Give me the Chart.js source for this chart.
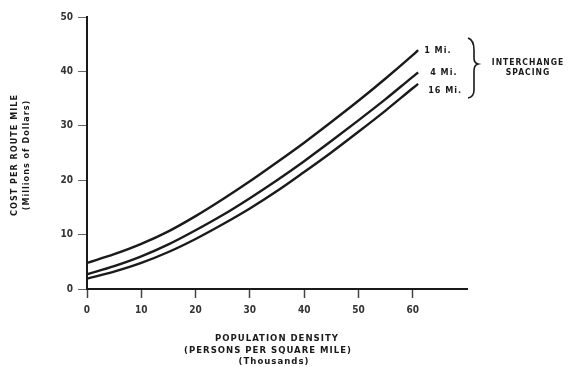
<!DOCTYPE html>
<html>
<head>
<meta charset="utf-8">
<script src="https://cdn.jsdelivr.net/npm/chart.js@4"></script>
<style>
  html, body { margin: 0; padding: 0; background: #fff; }
  canvas { display: block; }
</style>
</head>
<body>
<canvas id="cost" width="569" height="367"></canvas>
<script>
// ── DATA ─────────────────────────────────────────────────────────────
// population density, thousands of persons per square mile
const densityK = [0, 5, 10, 15, 20, 25, 30, 35, 40, 45, 50, 55, 60, 61]
// cost per route mile, millions of dollars, by interchange spacing
const cost1Mi  = [4.8, 6.4, 8.3, 10.6, 13.4, 16.5, 19.8, 23.3, 26.9, 30.7, 34.6, 38.7, 43.0, 43.9]
const cost4Mi  = [2.7, 4.2, 6.0, 8.2, 10.8, 13.6, 16.7, 20.0, 23.5, 27.2, 31.0, 34.9, 39.0, 39.8]
const cost16Mi = [1.9, 3.2, 4.8, 6.8, 9.2, 11.9, 14.8, 18.0, 21.5, 25.1, 28.9, 32.8, 36.9, 37.7]
const spacingLabels = ["1 Mi.", "4 Mi.", "16 Mi."]
const xTickMax = 60

const FONT = "'Liberation Sans Narrow', 'DejaVu Sans Condensed', 'Arial Narrow', sans-serif"
const INK = "#1a1a1a"

const toPts = ys => ys.map((y, i) => ({ x: densityK[i], y }))

// offsets of the end labels from each curve's last point
const labelOffsets = [[6, 0], [12, 0], [10, 7]]

const annotate = {
  id: "annotate",
  afterDraw(chart) {
    const ctx = chart.ctx
    ctx.save()
    ctx.fillStyle = INK
    ctx.textBaseline = "middle"
    ctx.letterSpacing = "1px"

    // curve end labels
    ctx.font = "bold 9px " + FONT
    ctx.textAlign = "left"
    chart.data.datasets.forEach((ds, i) => {
      const meta = chart.getDatasetMeta(i)
      const last = meta.data[meta.data.length - 1]
      ctx.fillText(spacingLabels[i], last.x + labelOffsets[i][0], last.y + labelOffsets[i][1])
    })

    // brace
    ctx.strokeStyle = INK
    ctx.lineWidth = 1.6
    ctx.beginPath()
    ctx.moveTo(468, 38)
    ctx.quadraticCurveTo(474, 40, 474, 50)
    ctx.lineTo(474, 58)
    ctx.quadraticCurveTo(474, 63, 478, 64)
    ctx.quadraticCurveTo(474, 65, 474, 71)
    ctx.lineTo(474, 90)
    ctx.quadraticCurveTo(474, 97, 468, 98)
    ctx.stroke()

    ctx.textAlign = "center"
    ctx.font = "bold 8.5px " + FONT
    ctx.fillText("INTERCHANGE", 528, 63)
    ctx.fillText("SPACING", 528, 73)

    // x axis title
    ctx.font = "bold 9.5px " + FONT
    ctx.fillText("POPULATION DENSITY", 277, 339)
    ctx.fillText("(PERSONS PER SQUARE MILE)", 268, 351)
    ctx.fillText("(Thousands)", 274, 362)

    // y axis title
    ctx.translate(0, 155)
    ctx.rotate(-Math.PI / 2)
    ctx.font = "bold 9px " + FONT
    ctx.fillText("COST PER ROUTE MILE", 0, 15)
    ctx.fillText("(Millions of Dollars)", 0, 27)
    ctx.restore()
  }
}

const line = (data) => ({
  data: toPts(data),
  borderColor: INK,
  borderWidth: 2.4,
  pointRadius: 0,
  cubicInterpolationMode: "monotone",
  fill: false
})

new Chart(document.getElementById("cost"), {
  type: "line",
  data: { datasets: [line(cost1Mi), line(cost4Mi), line(cost16Mi)] },
  options: {
    responsive: false,
    animation: false,
    layout: { padding: { top: 17, right: 102, left: 0, bottom: 0 } },
    plugins: { legend: { display: false }, tooltip: { enabled: false } },
    scales: {
      x: {
        type: "linear",
        min: 0,
        max: 70,
        afterBuildTicks: s => { s.ticks = s.ticks.filter(t => t.value <= xTickMax) },
        afterFit: s => { s.height = 78 },
        border: { color: INK, width: 2 },
        grid: { drawOnChartArea: false, tickLength: 9, tickColor: "#444", tickWidth: 1.5 },
        ticks: { stepSize: 10, padding: 6, color: "#333", maxRotation: 0, font: { family: FONT, size: 10, weight: "bold" } }
      },
      y: {
        min: 0,
        max: 50,
        afterFit: s => { s.width = 87 },
        border: { color: INK, width: 2 },
        grid: { drawOnChartArea: false, tickLength: 9, tickColor: "#666", tickWidth: 1 },
        ticks: { stepSize: 10, padding: 5, color: "#333", font: { family: FONT, size: 10, weight: "bold" } }
      }
    }
  },
  plugins: [annotate]
})
</script>
</body>
</html>
